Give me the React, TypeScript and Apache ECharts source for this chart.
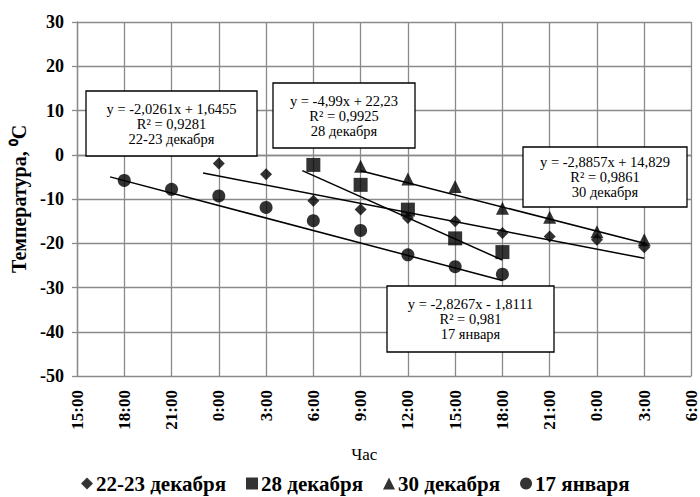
import React, { useEffect, useRef } from "react";
import * as echarts from "echarts";

// Hours counted from 15:00 of the first day
const xTickLabels = ["15:00", "18:00", "21:00", "0:00", "3:00", "6:00", "9:00", "12:00", "15:00", "18:00", "21:00", "0:00", "3:00", "6:00"];
const yTicks = [-50, -40, -30, -20, -10, 0, 10, 20, 30];

const seriesNames = ["22-23 декабря", "28 декабря", "30 декабря", "17 января"];

const dec22Hours = [9, 12, 15, 18, 21, 24, 27, 30, 33, 36];
const dec22Temp = [-2.0, -4.4, -10.4, -12.4, -14.3, -15.0, -17.7, -18.5, -19.2, -20.9];
const dec28Hours = [15, 18, 21, 24, 27];
const dec28Temp = [-2.3, -6.8, -12.4, -18.9, -22.0];
const dec30Hours = [18, 21, 24, 27, 30, 33, 36];
const dec30Temp = [-2.6, -5.5, -7.2, -12.1, -14.1, -17.4, -19.2];
const jan17Hours = [3, 6, 9, 12, 15, 18, 21, 24, 27];
const jan17Temp = [-5.8, -7.8, -9.3, -11.9, -14.9, -17.1, -22.6, -25.3, -27.0];

// Trend line end points [hour, temp]
const dec22Trend = [[8.0, -4.1], [36, -23.4]];
const dec28Trend = [[14.3, -3.6], [27, -23.8]];
const dec30Trend = [[18, -3.6], [36, -20.0]];
const jan17Trend = [[2.1, -5.0], [27, -28.4]];

const annotations = [
  { lines: ["y = -2,0261x + 1,6455", "R² = 0,9281", "22-23 декабря"], box: [86, 91, 171, 65] },
  { lines: ["y = -4,99x + 22,23", "R² = 0,9925", "28 декабря"], box: [273, 83, 142, 65] },
  { lines: ["y = -2,8857x + 14,829", "R² = 0,9861", "30 декабря"], box: [523, 147, 164, 60] },
  { lines: ["y = -2,8267x - 1,8111", "R² = 0,981", "17 января"], box: [387, 286, 167, 66] },
];

const SERIF = "Liberation Serif";
const GRID = "#8a8a8a";

function zip(xs: number[], ys: number[]) {
  return xs.map((x, i) => [x, ys[i]]);
}

export default function App() {
  const ref = useRef<HTMLDivElement>(null);
  useEffect(() => {
    document.body.style.margin = "0";
    if (!ref.current) return;
    const chart = echarts.init(ref.current, null, { renderer: "svg" });
    const symbols = ["diamond", "rect", "triangle", "circle"];
    const sizes: any[] = [[12, 12], [14, 14], [13, 13], [13, 13]];
    const pts = [zip(dec22Hours, dec22Temp), zip(dec28Hours, dec28Temp), zip(dec30Hours, dec30Temp), zip(jan17Hours, jan17Temp)];
    const trends = [dec22Trend, dec28Trend, dec30Trend, jan17Trend];

    const graphic: any[] = [
      {
        type: "text",
        x: 19,
        y: 199,
        rotation: Math.PI / 2,
        style: {
          text: "Температура, ⁰C",
          fontFamily: SERIF,
          fontWeight: "bold",
          fontSize: 20,
          fill: "#000",
          align: "center",
          verticalAlign: "middle",
        },
      },
    ];
    annotations.forEach((a) => {
      const [x, y, w, h] = a.box;
      graphic.push({
        type: "rect",
        shape: { x, y, width: w, height: h },
        style: { fill: "#fff", stroke: "#000", lineWidth: 1.3 },
        z: 100,
      });
      graphic.push({
        type: "text",
        x: x + w / 2,
        y: y + h / 2,
        z: 101,
        style: {
          text: a.lines.join("\n"),
          fontFamily: SERIF,
          fontSize: 14.5,
          lineHeight: 15,
          fill: "#000",
          align: "center",
          verticalAlign: "middle",
        },
      });
    });

    chart.setOption({
      animation: false,
      backgroundColor: "#fff",
      textStyle: { fontFamily: SERIF },
      grid: { left: 77, right: 7, top: 22, bottom: 121 },
      legend: {
        data: seriesNames.map((n, i) => ({ name: n, icon: symbols[i] })),
        left: 76,
        top: 468,
        itemWidth: 12,
        itemHeight: 12,
        itemGap: 20,
        textStyle: { fontFamily: SERIF, fontWeight: "bold", fontSize: 21, color: "#000", padding: [0, 0, 0, -2] },
      },
      xAxis: {
        type: "value",
        min: 0,
        max: 39,
        interval: 3,
        name: "Час",
        nameLocation: "middle",
        nameGap: 70,
        nameTextStyle: { fontFamily: SERIF, fontSize: 17, color: "#000", padding: [0, 40, 0, 0] },
        axisLine: { show: true, lineStyle: { color: GRID, width: 1.3 } },
        axisTick: { show: false },
        splitLine: { show: true, lineStyle: { color: GRID, width: 1.3 } },
        axisLabel: {
          rotate: 90,
          margin: 14,
          fontFamily: SERIF,
          fontWeight: "bold",
          fontSize: 17,
          color: "#000",
          formatter: (v: number) => xTickLabels[Math.round(v / 3)] ?? "",
        },
      },
      yAxis: {
        type: "value",
        min: yTicks[0],
        max: yTicks[yTicks.length - 1],
        interval: 10,
        axisLine: { show: true, lineStyle: { color: GRID, width: 1.3 } },
        axisTick: { show: true, length: 5, lineStyle: { color: GRID, width: 1.3 } },
        splitLine: { show: true, lineStyle: { color: GRID, width: 1.3 } },
        axisLabel: {
          margin: 13,
          fontFamily: SERIF,
          fontWeight: "bold",
          fontSize: 18,
          color: "#000",
        },
      },
      series: [
        ...trends.map((t, i) => ({
          name: "trend" + i,
          type: "line",
          data: t,
          symbol: "none",
          lineStyle: { color: "#000", width: 1.5 },
          z: 3,
          silent: true,
        })),
        ...pts.map((p, i) => ({
          name: seriesNames[i],
          type: "scatter",
          data: p,
          symbol: symbols[i],
          symbolSize: sizes[i],
          itemStyle: { color: "#000" },
          z: 4,
        })),
      ],
      graphic,
    });
    return () => chart.dispose();
  }, []);
  return <div ref={ref} style={{ width: 700, height: 497 }} />;
}
